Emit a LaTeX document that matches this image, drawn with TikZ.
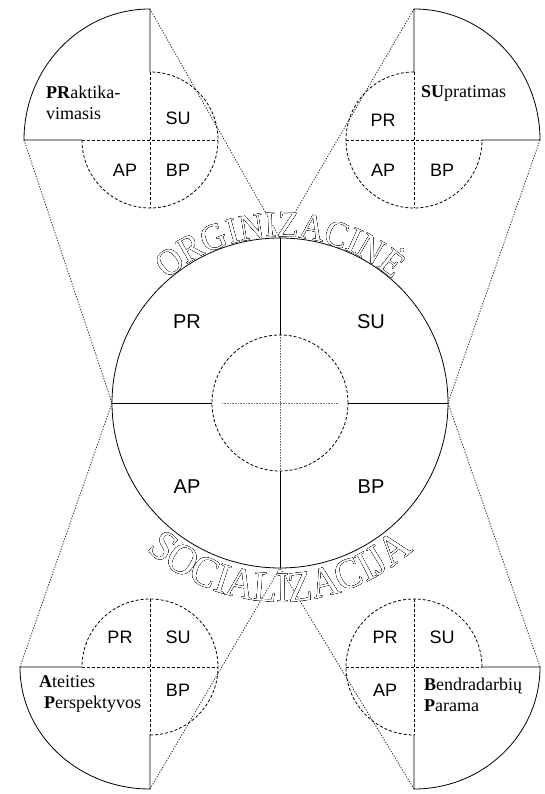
\documentclass[tikz,border=0pt]{standalone}
\usepackage{fontspec}
\setmainfont{Liberation Serif}
\setsansfont{Liberation Sans}
\newfontfamily\arcfamily[FakeStretch=0.93]{Liberation Serif}
\newfontfamily\arcfamilyb[FakeStretch=0.92]{Liberation Serif}
\usetikzlibrary{decorations.text}
\tikzset{
  solidln/.style={line width=0.8pt, black},
  dashln/.style={line width=0.8pt, black, dash pattern=on 3pt off 2pt},
  dotcross/.style={line width=0.6pt, black!55, dash pattern=on 0.8pt off 0.8pt},
  connector/.style={line width=0.8pt, black!85, dash pattern=on 1.2pt off 1.5pt},
  biglab/.style={font=\sffamily\fontsize{20}{20}\selectfont, inner sep=0pt},
  smalllab/.style={font=\sffamily\fontsize{18}{18}\selectfont, inner sep=0pt},
  sertext/.style={font=\fontsize{18}{21}\selectfont, align=left, anchor=west, inner sep=0pt},
}
\newcommand{\toparcfont}{\arcfamily\fontsize{37}{37}\selectfont}
\newcommand{\botarcfont}{\arcfamilyb\fontsize{43}{43}\selectfont}
\begin{document}
\begin{tikzpicture}[x=1pt,y=1pt]
\useasboundingbox (0,0) rectangle (545,794);
\fill[white] (0,0) rectangle (545,794);

% ---------- key points ----------
\coordinate (mc) at (280,391);
\coordinate (mtop) at (280,556);
\coordinate (mbot) at (280,226);
\coordinate (mleft) at (112,391);
\coordinate (mright) at (448,391);

\coordinate (tltop) at (150,785);
\coordinate (tlleft) at (24,654);
\coordinate (trtop) at (414,785);
\coordinate (trright) at (540,654);
\coordinate (blleft) at (20,127);
\coordinate (blbot) at (150,5);
\coordinate (brright) at (540,127);
\coordinate (brbot) at (414,5);

% ---------- connectors ----------
\draw[connector] (tltop) -- (mtop);
\draw[connector] (trtop) -- (mtop);
\draw[connector] (tlleft) -- (mleft);
\draw[connector] (blleft) -- (mleft);
\draw[connector] (trright) -- (mright);
\draw[connector] (brright) -- (mright);
\draw[connector] (blbot) -- (mbot);
\draw[connector] (brbot) -- (mbot);

% ---------- main circle ----------
\draw[solidln] (mc) ellipse[x radius=168, y radius=165];
\draw[solidln] (mtop) -- (280,459);
\draw[solidln] (280,323) -- (mbot);
\draw[solidln] (mleft) -- (212,391);
\draw[solidln] (348,391) -- (mright);
\draw[dashln] (mc) circle[radius=68];
\draw[dotcross] (280,459) -- (280,323);
\draw[dotcross] (222,391) -- (338,391);

\node[biglab] (mpr) at (187,472) {PR};
\node[biglab] (msu) at (371,472) {SU};
\node[biglab] (map) at (187,307) {AP};
\node[biglab] (mbp) at (371,307) {BP};

% ---------- top-left figure ----------
\draw[solidln] (150,722) -- (tltop) arc[start angle=90, end angle=180, x radius=126, y radius=131] -- (82,654);
\draw[dashln] (82,654) arc[start angle=180, end angle=450, radius=68];
\draw[dashln] (82,654) -- (218,654);
\draw[dashln] (150,722) -- (150,586);
\node[smalllab] (tlsu) at (178,676) {SU};
\node[smalllab] (tlap) at (125,624) {AP};
\node[smalllab] (tlbp) at (178,624) {BP};
\node[sertext] (tltext) at (46,691) {\textbf{PR}aktika-\\vimasis};

% ---------- top-right figure ----------
\draw[solidln] (414,722) -- (trtop) arc[start angle=90, end angle=0, x radius=126, y radius=131] -- (482,654);
\draw[dashln] (414,722) arc[start angle=90, end angle=360, radius=68];
\draw[dashln] (346,654) -- (482,654);
\draw[dashln] (414,722) -- (414,586);
\node[smalllab] (trpr) at (383,674) {PR};
\node[smalllab] (trap) at (383,624) {AP};
\node[smalllab] (trbp) at (442,624) {BP};
\node[sertext] (trtext) at (421,701) {\textbf{SU}pratimas};

% ---------- bottom-left figure ----------
\draw[solidln] (82,127) -- (blleft) arc[start angle=180, end angle=270, x radius=130, y radius=122] -- (150,59);
\draw[dashln] (150,59) arc[start angle=270, end angle=540, radius=68];
\draw[dashln] (82,127) -- (218,127);
\draw[dashln] (150,195) -- (150,59);
\node[smalllab] (blpr) at (120,157) {PR};
\node[smalllab] (blsu) at (178,157) {SU};
\node[smalllab] (blbp) at (178,104) {BP};
\node[sertext] (bltext) at (39,100) {\textbf{A}teities\\\hspace*{5pt}\textbf{P}erspektyvos};

% ---------- bottom-right figure ----------
\draw[solidln] (482,127) -- (brright) arc[start angle=0, end angle=-90, x radius=126, y radius=122] -- (414,59);
\draw[dashln] (482,127) arc[start angle=0, end angle=270, radius=68];
\draw[dashln] (346,127) -- (482,127);
\draw[dashln] (414,195) -- (414,59);
\node[smalllab] (brpr) at (385,157) {PR};
\node[smalllab] (brsu) at (442,157) {SU};
\node[smalllab] (brap) at (385,104) {AP};
\node[sertext] (brtext) at (424,99) {\textbf{B}endradarbių\\\textbf{P}arama};

% ---------- arc titles (outlined letters) ----------
\foreach \ang in {0,30,...,330} {
  \path[shift={(\ang:1.3)}, decorate, decoration={text along path,
      text={|\toparcfont|ORGINIZACINĖ}, text align=center, text color=black}]
    (mc) ++(140:168 and 166) arc[start angle=140, end angle=40, x radius=168, y radius=166];
  \path[shift={(\ang:1.3)}, decorate, decoration={text along path,
      text={|\botarcfont|SOCIALIZACIJA}, text align=center, text color=black}]
    (mc) ++(220:199) arc[start angle=220, end angle=320, radius=199];
}
\path[decorate, decoration={text along path,
    text={|\toparcfont|ORGINIZACINĖ}, text align=center, text color=white}]
  (mc) ++(140:168 and 166) arc[start angle=140, end angle=40, x radius=168, y radius=166];
\path[decorate, decoration={text along path,
    text={|\botarcfont|SOCIALIZACIJA}, text align=center, text color=white}]
  (mc) ++(220:199) arc[start angle=220, end angle=320, radius=199];
\end{tikzpicture}
\end{document}
